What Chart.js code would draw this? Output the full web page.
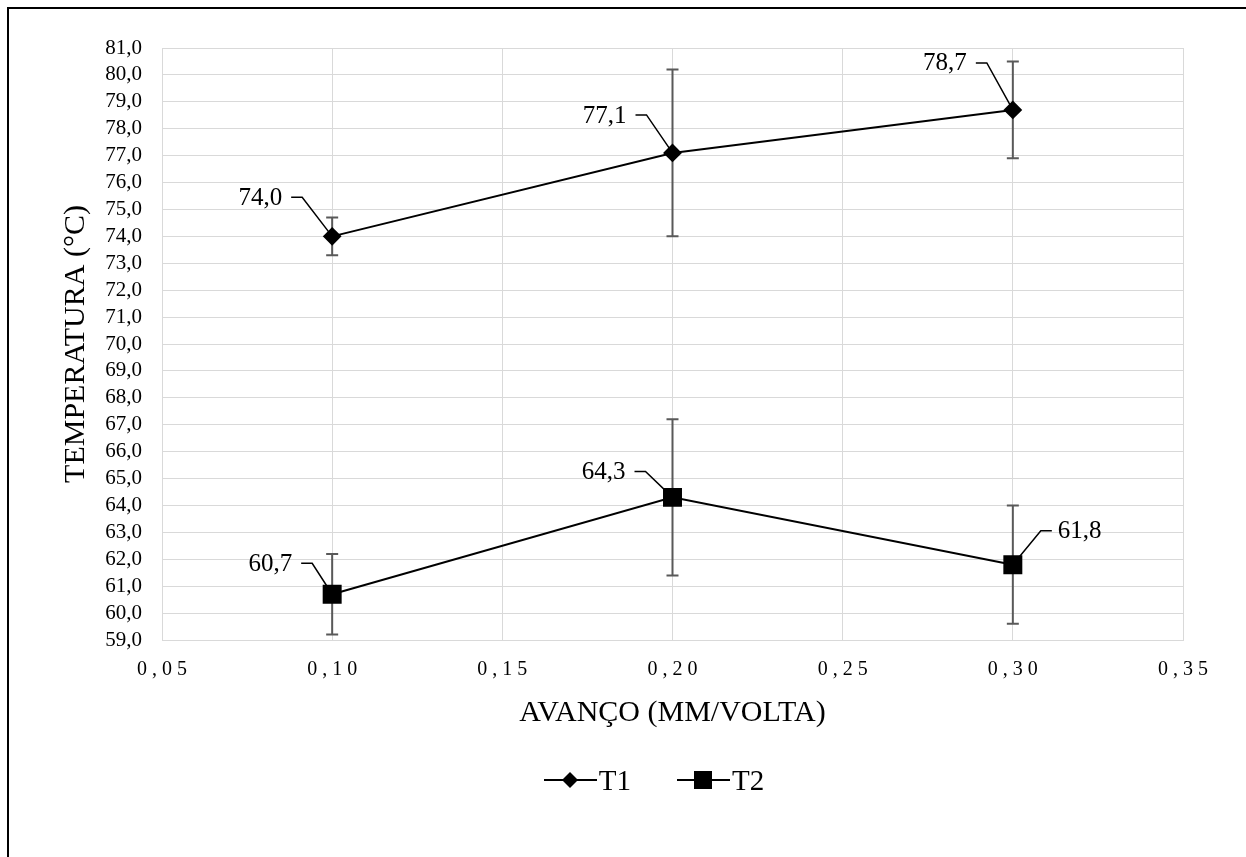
<!DOCTYPE html>
<html>
<head>
<meta charset="utf-8">
<script src="https://cdn.jsdelivr.net/npm/chart.js@4"></script>
<style>
    body { margin: 0; background: #fff; }
    #frame {
        position: absolute; left: 7px; top: 7px; width: 1239px; height: 850px;
        border-top: 2px solid #000; border-left: 2px solid #000;
    }
    #wrap { position: absolute; left: 0; top: 0; width: 1246px; height: 857px; }
    #legend {
        position: absolute; left: 0; top: 763px; width: 1308px;
        display: flex; justify-content: center; gap: 46px;
        font-family: "Liberation Serif", serif; font-size: 29px; line-height: 34px; color: #000;
    }
    #legend .item { display: flex; align-items: center; gap: 2px; }
</style>
</head>
<body>
<div id="frame"></div>
<div id="wrap"><canvas id="myChart" width="1246" height="857"></canvas></div>
<div id="legend"></div>

<script>
// data
const avanco = [0.10, 0.20, 0.30];
const t1Values = [74.0, 77.1, 78.7];
const t1Errors = [0.7, 3.1, 1.8];
const t2Values = [60.7, 64.3, 61.8];
const t2Errors = [1.5, 2.9, 2.2];
const seriesNames = ["T1", "T2"];
const xTicks = [0.05, 0.10, 0.15, 0.20, 0.25, 0.30, 0.35];
const yMin = 59, yMax = 81;

const serif = "'Liberation Serif', 'Times New Roman', serif";
const gridGrey = "#d9d9d9";

// where each data label sits relative to its point (leader elbow offset)
const labelPlacement = [
    [{ dx: -30, dy: -39, side: "left" }, { dx: -26, dy: -38, side: "left" }, { dx: -26, dy: -47, side: "left" }],
    [{ dx: -20, dy: -31, side: "left" }, { dx: -27, dy: -26, side: "left" }, { dx: 28, dy: -34, side: "right" }]
];

const toPoints = (vals) => avanco.map((x, i) => ({ x: x, y: vals[i] }));
const comma = (v, d) => v.toFixed(d).replace(".", ",");

// vertical error bars with caps
const errorBars = {
    id: "errorBars",
    beforeDatasetsDraw(chart) {
        const { ctx, scales: { x, y } } = chart;
        const errs = [t1Errors, t2Errors];
        ctx.save();
        ctx.strokeStyle = "#595959";
        ctx.lineWidth = 2;
        chart.data.datasets.forEach((ds, d) => {
            ds.data.forEach((p, i) => {
                const px = x.getPixelForValue(p.x);
                const top = y.getPixelForValue(p.y + errs[d][i]);
                const bot = y.getPixelForValue(p.y - errs[d][i]);
                ctx.beginPath();
                ctx.moveTo(px, top); ctx.lineTo(px, bot);
                ctx.moveTo(px - 6, top); ctx.lineTo(px + 6, top);
                ctx.moveTo(px - 6, bot); ctx.lineTo(px + 6, bot);
                ctx.stroke();
            });
        });
        ctx.restore();
    }
};

// value labels with leader lines
const leaderLabels = {
    id: "leaderLabels",
    afterDatasetsDraw(chart) {
        const { ctx } = chart;
        ctx.save();
        ctx.font = "25px " + serif;
        ctx.fillStyle = "#000";
        ctx.strokeStyle = "#000";
        ctx.lineWidth = 1.5;
        ctx.textBaseline = "middle";
        chart.data.datasets.forEach((ds, d) => {
            chart.getDatasetMeta(d).data.forEach((el, i) => {
                const pl = labelPlacement[d][i];
                const ex = el.x + pl.dx, ey = el.y + pl.dy;
                const hx = pl.side === "left" ? ex - 11 : ex + 11;
                ctx.beginPath();
                ctx.moveTo(el.x, el.y);
                ctx.lineTo(ex, ey);
                ctx.lineTo(hx, ey);
                ctx.stroke();
                ctx.textAlign = pl.side === "left" ? "right" : "left";
                ctx.fillText(comma(ds.data[i].y, 1), pl.side === "left" ? hx - 9 : hx + 6, ey + 1);
            });
        });
        ctx.restore();
    }
};

const ctx = document.getElementById("myChart").getContext("2d");

const chart = new Chart(ctx, {
    type: "line",
    data: {
        datasets: [{
            label: seriesNames[0],
            data: toPoints(t1Values),
            borderColor: "#000",
            borderWidth: 2,
            pointStyle: "rectRot",
            pointRadius: 8,
            pointBackgroundColor: "#000",
            pointBorderColor: "#000",
            tension: 0
        }, {
            label: seriesNames[1],
            data: toPoints(t2Values),
            borderColor: "#000",
            borderWidth: 2,
            pointStyle: "rect",
            pointRadius: 12,
            pointBackgroundColor: "#000",
            pointBorderColor: "#000",
            tension: 0
        }]
    },
    options: {
        responsive: false,
        animation: false,
        layout: { padding: { left: 0, right: 63, top: 48, bottom: 117 } },
        plugins: {
            legend: { display: false },
            tooltip: { enabled: false }
        },
        scales: {
            x: {
                type: "linear",
                min: xTicks[0],
                max: xTicks[xTicks.length - 1],
                afterBuildTicks: (scale) => { scale.ticks = xTicks.map(v => ({ value: v })); },
                afterFit: (scale) => { scale.height = 100; },
                grid: { color: gridGrey, drawTicks: false },
                border: { color: gridGrey },
                ticks: {
                    padding: 18,
                    color: "#000",
                    font: { family: serif, size: 20 },
                    callback: (v) => comma(v, 2).split("").join("\u2005")
                },
                title: {
                    display: true,
                    text: "AVANÇO (MM/VOLTA)",
                    color: "#000",
                    font: { family: serif, size: 30 },
                    padding: { top: 0, bottom: 9 }
                }
            },
            y: {
                min: yMin,
                max: yMax,
                afterFit: (scale) => { scale.width = 162; },
                grid: { color: gridGrey, drawTicks: false },
                border: { color: gridGrey },
                ticks: {
                    stepSize: 1,
                    autoSkip: false,
                    padding: 20,
                    color: "#000",
                    font: { family: serif, size: 21 },
                    callback: (v) => comma(v, 1)
                },
                title: {
                    display: true,
                    text: "TEMPERATURA (°C)",
                    color: "#000",
                    font: { family: serif, size: 30 },
                    padding: { top: 58, bottom: 0 }
                }
            }
        }
    },
    plugins: [errorBars, leaderLabels]
});

// legend: short line with the series marker, then the name
const legend = document.getElementById("legend");
chart.data.datasets.forEach((ds) => {
    const marker = ds.pointStyle === "rect"
        ? '<rect x="17" y="1" width="18" height="18" fill="#000"/>'
        : '<polygon points="26,2 34,10 26,18 18,10" fill="#000"/>';
    const div = document.createElement("div");
    div.className = "item";
    div.innerHTML = `
        <svg width="53" height="20"><line x1="0" y1="10" x2="53" y2="10" stroke="#000" stroke-width="2"/>${marker}</svg>
        <span>${ds.label}</span>
    `;
    legend.appendChild(div);
});
</script>
</body>
</html>
